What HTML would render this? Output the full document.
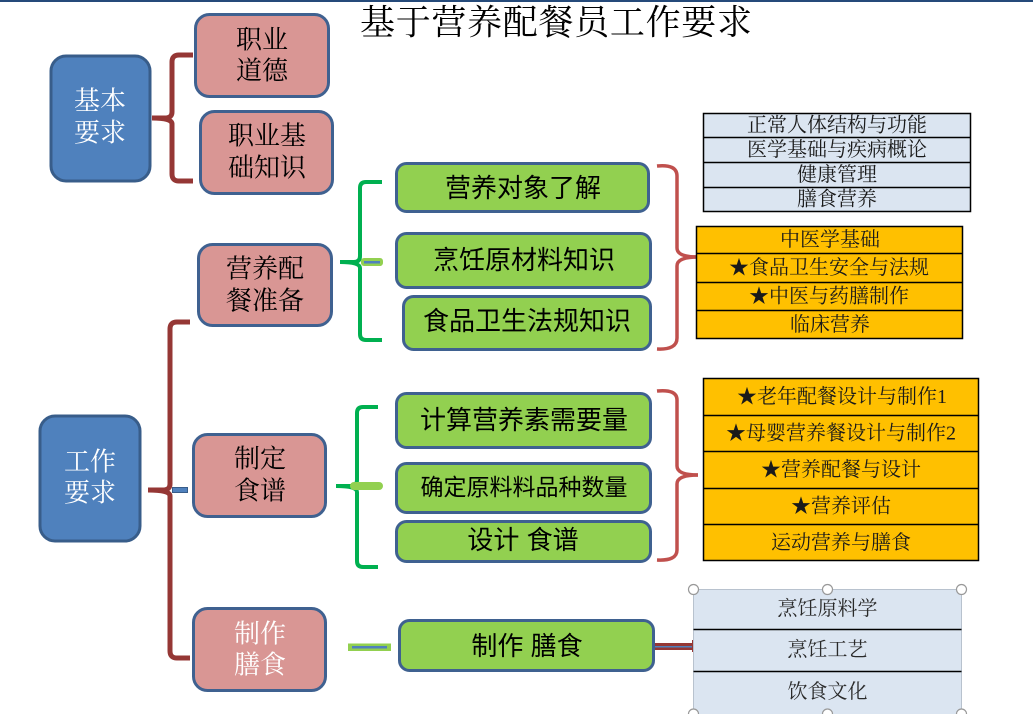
<!DOCTYPE html>
<html><head><meta charset="utf-8">
<style>
html,body{margin:0;padding:0;background:#fff;}
svg{display:block;}
.serif{font-family:"Liberation Serif","Noto Serif CJK SC",serif;}
.sans{font-family:"Liberation Sans","Noto Sans CJK SC",sans-serif;}
</style></head>
<body>
<svg width="1033" height="714" viewBox="0 0 1033 714" xmlns="http://www.w3.org/2000/svg">
<rect x="0" y="0" width="1033" height="714" fill="#fff"/>
<rect x="0" y="0" width="1033" height="2" fill="#254A7A"/>

<!-- title -->
<text x="556" y="23" class="serif" font-size="35" text-anchor="middle" dominant-baseline="central" fill="#000" textLength="392" lengthAdjust="spacing">基于营养配餐员工作要求</text>

<!-- dark red brackets -->
<g fill="none" stroke="#953735" stroke-width="5" stroke-linecap="butt">
  <path d="M193,55 L179,55 Q172,55 172,62 L172,112 Q172,118 165,118 L152,118"/>
  <path d="M152,118 Q172,118 172,124 L172,174 Q172,181 179,181 L193,181"/>
  <path d="M190,322 L177,322 Q170,322 170,329 L170,484 Q170,490 163,490 L148,490"/>
  <path d="M148,490 Q170,490 170,496 L170,651 Q170,658 177,658 L190,658"/>
</g>
<rect x="172.5" y="487.5" width="15" height="5" fill="#4F81BD" stroke="#385D8A" stroke-width="1"/>

<!-- green brackets -->
<g fill="none" stroke="#00B050" stroke-width="4">
  <path d="M382,182 L366,182 Q360,182 360,188 L360,256 Q360,262 354,262 L340,262"/>
  <path d="M340,262 Q360,262 360,268 L360,334 Q360,340 366,340 L382,340"/>
  <path d="M378,407 L363,407 Q357,407 357,413 L357,480 Q357,486 351,486 L336,486"/>
  <path d="M336,486 Q357,486 357,492 L357,561 Q357,567 363,567 L378,567"/>
</g>
<rect x="361" y="258" width="22" height="8" rx="3" fill="#92D050"/>
<rect x="364" y="261" width="16" height="2.5" fill="#4F81BD"/>
<rect x="350" y="482" width="33" height="8" rx="4" fill="#92D050"/>
<rect x="348" y="643.5" width="43" height="7.5" fill="#92D050"/>
<rect x="352" y="646" width="35" height="2.5" fill="#4F81BD"/>

<!-- light red braces -->
<g fill="none" stroke="#C0504D" stroke-width="3.5">
  <path d="M657,166 Q677,164 677,176 L677,248 Q677,257 698,257"/>
  <path d="M698,257 Q677,257 677,266 L677,338 Q677,350 657,349"/>
  <path d="M657,391 Q677,389 677,400 L677,466 Q677,475 698,475"/>
  <path d="M698,475 Q677,475 677,484 L677,550 Q677,561 657,560"/>
</g>

<!-- connector to bottom table -->
<rect x="655" y="643" width="38" height="7" fill="#953735"/>
<rect x="655" y="646" width="38" height="1.5" fill="#4F81BD"/>
<rect x="692" y="640" width="1.5" height="12" fill="#953735"/>

<!-- blue boxes -->
<g stroke="#385D8A" stroke-width="3" fill="#4F81BD">
  <rect x="51" y="56" width="99" height="125" rx="15"/>
  <rect x="40" y="416" width="100" height="125" rx="15"/>
</g>
<g class="serif" font-size="26" fill="#fff" text-anchor="middle" dominant-baseline="central">
  <text x="100" y="101">基本</text><text x="100" y="133">要求</text>
  <text x="90" y="462">工作</text><text x="90" y="493">要求</text>
</g>

<!-- pink boxes -->
<g stroke="#3F6190" stroke-width="3" fill="#D99694">
  <rect x="195.5" y="14.5" width="133" height="82" rx="14"/>
  <rect x="200.5" y="111.5" width="132" height="82" rx="14"/>
  <rect x="198.5" y="244.5" width="133" height="81" rx="14"/>
  <rect x="193.5" y="434.5" width="132" height="82" rx="14"/>
  <rect x="193.5" y="608.5" width="132" height="82" rx="14"/>
</g>
<g class="serif" font-size="26" fill="#000" text-anchor="middle" dominant-baseline="central">
  <text x="262" y="40">职业</text><text x="262" y="71">道德</text>
  <text x="267" y="136">职业基</text><text x="267" y="168">础知识</text>
  <text x="265" y="269">营养配</text><text x="265" y="301">餐准备</text>
  <text x="260" y="459">制定</text><text x="260" y="491">食谱</text>
</g>
<g class="serif" font-size="26" fill="#fff" text-anchor="middle" dominant-baseline="central">
  <text x="260" y="634">制作</text><text x="260" y="665">膳食</text>
</g>

<!-- green boxes -->
<g stroke="#3F6190" stroke-width="3" fill="#92D050">
  <rect x="396.5" y="163.5" width="252" height="48" rx="10"/>
  <rect x="396.5" y="233.5" width="254" height="54" rx="10"/>
  <rect x="403.5" y="296.5" width="247" height="53" rx="10"/>
  <rect x="396.5" y="393.5" width="254" height="54" rx="10"/>
  <rect x="396.5" y="463.5" width="254" height="49" rx="10"/>
  <rect x="396.5" y="521.5" width="254" height="40" rx="10"/>
  <rect x="399.5" y="620.5" width="254" height="50" rx="10"/>
</g>
<g class="sans" font-size="26" fill="#000" text-anchor="middle" dominant-baseline="central">
  <text x="523" y="188">营养对象了解</text>
  <text x="524" y="260">烹饪原材料知识</text>
  <text x="527" y="321">食品卫生法规知识</text>
  <text x="524" y="420">计算营养素需要量</text>
  <text x="524" y="487" font-size="23">确定原料料品种数量</text>
  <text x="523" y="540">设计 食谱</text>
  <text x="527" y="646">制作 膳食</text>
</g>

<!-- table 1 light blue -->
<g stroke="#000" stroke-width="1.5">
  <rect x="703.5" y="113.5" width="267" height="98" fill="#DBE5F1"/>
  <line x1="703.5" y1="137.5" x2="970.5" y2="137.5"/>
  <line x1="703.5" y1="162.5" x2="970.5" y2="162.5"/>
  <line x1="703.5" y1="187.5" x2="970.5" y2="187.5"/>
</g>
<g class="serif" font-size="20" fill="#1a1a1a" text-anchor="middle" dominant-baseline="central">
  <text x="837" y="125.5">正常人体结构与功能</text>
  <text x="837" y="150">医学基础与疾病概论</text>
  <text x="837" y="175">健康管理</text>
  <text x="837" y="199.5">膳食营养</text>
</g>

<!-- table 2 orange -->
<g stroke="#000" stroke-width="1.5">
  <rect x="696.5" y="226.5" width="266" height="112" fill="#FFC000"/>
  <line x1="696.5" y1="253.5" x2="962.5" y2="253.5"/>
  <line x1="696.5" y1="282.5" x2="962.5" y2="282.5"/>
  <line x1="696.5" y1="310.5" x2="962.5" y2="310.5"/>
</g>
<g class="serif" font-size="20" fill="#1a1a1a" text-anchor="middle" dominant-baseline="central">
  <text x="830" y="240">中医学基础</text>
  <text x="829" y="268">★食品卫生安全与法规</text>
  <text x="829" y="296.5">★中医与药膳制作</text>
  <text x="830" y="325">临床营养</text>
</g>

<!-- table 3 orange -->
<g stroke="#000" stroke-width="1.5">
  <rect x="703.5" y="378.5" width="275" height="182" fill="#FFC000"/>
  <line x1="703.5" y1="415.5" x2="978.5" y2="415.5"/>
  <line x1="703.5" y1="451.5" x2="978.5" y2="451.5"/>
  <line x1="703.5" y1="488.5" x2="978.5" y2="488.5"/>
  <line x1="703.5" y1="524.5" x2="978.5" y2="524.5"/>
</g>
<g class="serif" font-size="20" fill="#1a1a1a" text-anchor="middle" dominant-baseline="central">
  <text x="842" y="397">★老年配餐设计与制作1</text>
  <text x="841" y="433.5">★母婴营养餐设计与制作2</text>
  <text x="841" y="470">★营养配餐与设计</text>
  <text x="841" y="506.5">★营养评估</text>
  <text x="841" y="543">运动营养与膳食</text>
</g>

<!-- table 4 light blue with handles -->
<rect x="693.5" y="589.5" width="268" height="130" fill="#DBE5F1" stroke="#B8C2CE" stroke-width="1"/>
<g stroke="#000" stroke-width="1.5">
  <line x1="693.5" y1="629.5" x2="961.5" y2="629.5"/>
  <line x1="693.5" y1="671.5" x2="961.5" y2="671.5"/>
</g>
<g class="serif" font-size="20" fill="#2a2a2a" text-anchor="middle" dominant-baseline="central">
  <text x="827.5" y="609">烹饪原料学</text>
  <text x="827.5" y="650">烹饪工艺</text>
  <text x="827.5" y="692">饮食文化</text>
</g>
<g fill="#fff" stroke="#999" stroke-width="1.2">
  <circle cx="693.5" cy="589.5" r="5"/>
  <circle cx="827.5" cy="589.5" r="5"/>
  <circle cx="961.5" cy="589.5" r="5"/>
  <circle cx="693.5" cy="714" r="5"/>
  <circle cx="827.5" cy="714" r="5"/>
  <circle cx="961.5" cy="714" r="5"/>
</g>
</svg>
</body></html>
